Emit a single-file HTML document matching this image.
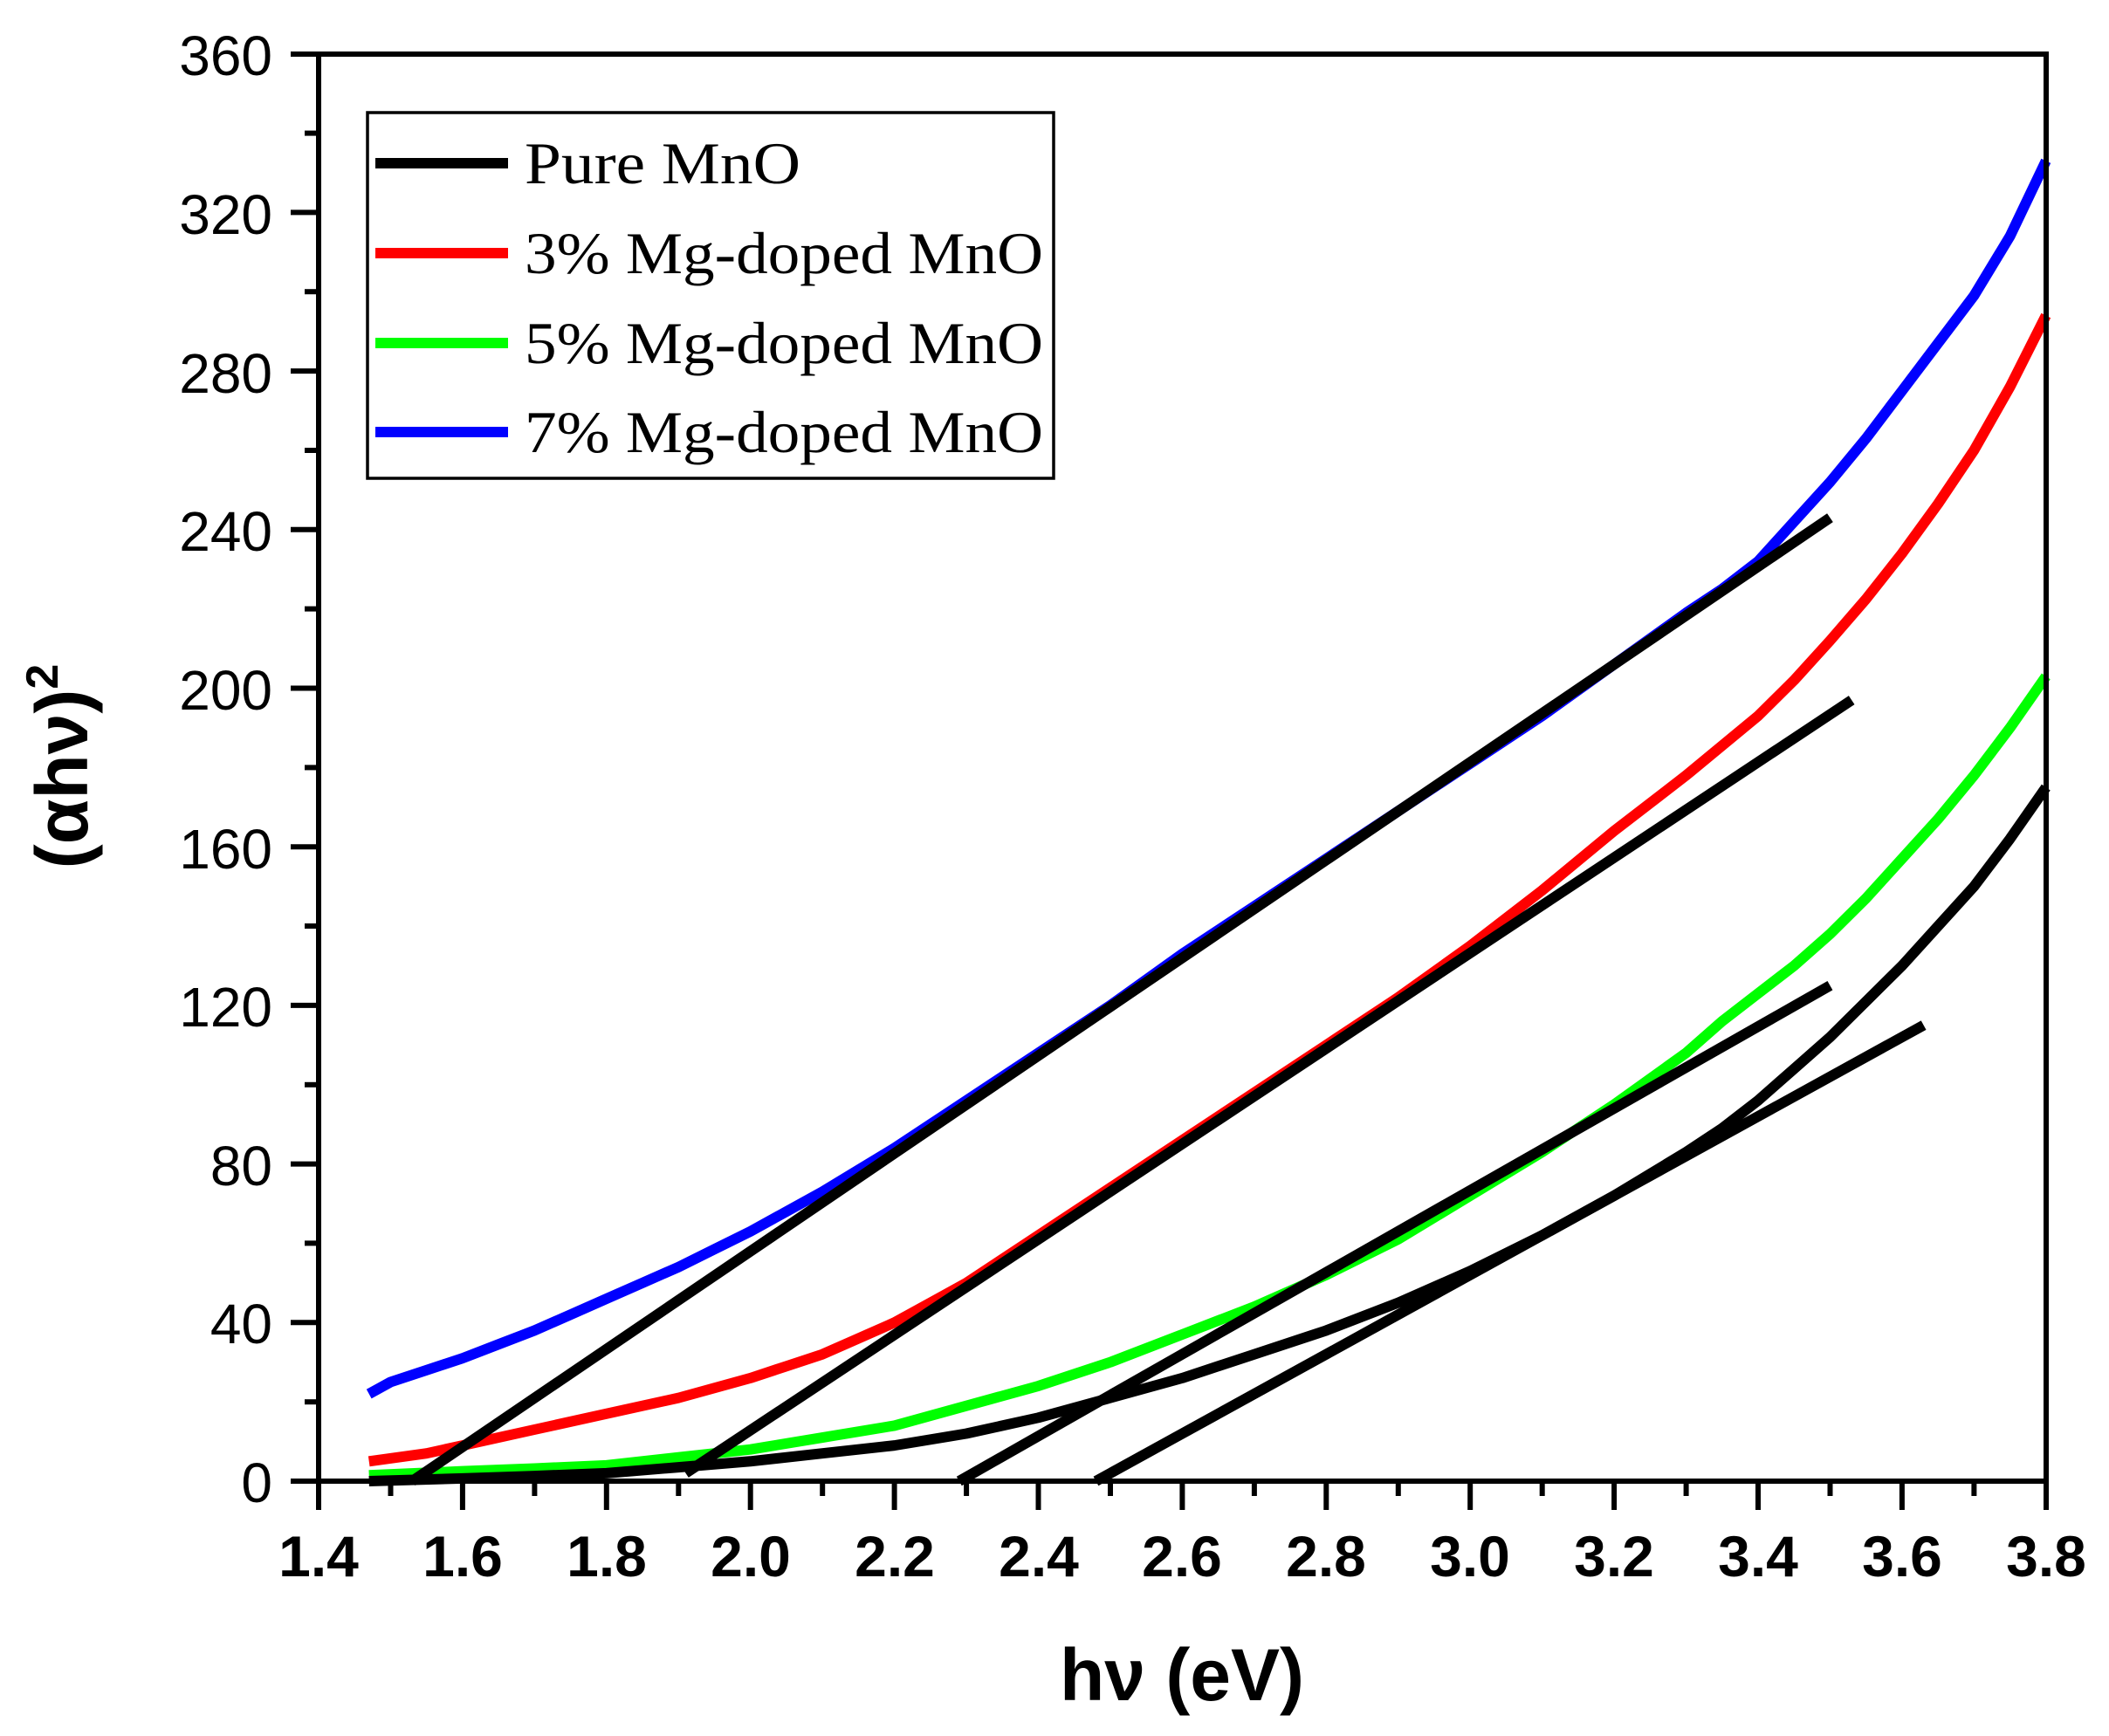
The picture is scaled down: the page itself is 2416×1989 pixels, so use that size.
<!DOCTYPE html>
<html><head><meta charset="utf-8"><style>
html,body{margin:0;padding:0;background:#fff;}
svg{display:block;}
</style></head><body>
<svg width="2416" height="1989" viewBox="0 0 2416 1989" xmlns="http://www.w3.org/2000/svg">
<rect width="2416" height="1989" fill="#fff"/>
<g transform="translate(-789.3,1697) scale(824.5,-4.5425)" fill="none" stroke-linejoin="round">
<polyline vector-effect="non-scaling-stroke" stroke="#0000ff" stroke-width="12" points="1.47,22 1.5,25 1.55,28 1.6,31 1.65,34.5 1.7,38 1.75,42 1.8,46 1.85,50 1.9,54 1.95,58.5 2.0,63 2.05,68 2.1,73 2.15,78.5 2.2,84 2.25,90 2.3,96 2.35,102 2.4,108 2.5,120 2.6,133 2.7,145 2.8,157 2.9,169 3.0,181 3.1,193 3.2,206 3.3,219 3.35,225 3.4,232 3.45,242 3.5,252 3.55,263 3.6,275 3.65,287 3.7,299 3.75,314 3.8,333"/>
<polyline vector-effect="non-scaling-stroke" stroke="#ff0000" stroke-width="12" points="1.47,5 1.55,7 1.6,9 1.7,13 1.8,17 1.9,21 1.95,23.5 2.0,26 2.05,29 2.1,32 2.15,36 2.2,40 2.25,45 2.3,50 2.35,56 2.4,62 2.5,74 2.6,86 2.7,98 2.8,110 2.9,122 3.0,135 3.1,149 3.2,164 3.3,178 3.4,193 3.45,202 3.5,212 3.55,222.5 3.6,234 3.65,246.5 3.7,260 3.75,276 3.8,294"/>
<polyline vector-effect="non-scaling-stroke" stroke="#00ff00" stroke-width="12" points="1.47,1.5 1.6,2.5 1.7,3.2 1.8,4 1.9,6 2.0,8 2.1,11 2.2,14 2.3,19 2.4,24 2.5,30 2.6,37 2.7,44 2.8,52 2.9,61 3.0,72 3.1,83 3.2,95 3.3,108 3.35,116 3.4,123 3.45,130 3.5,138 3.55,147 3.6,157 3.65,167 3.7,178 3.75,190 3.8,203"/>
<polyline vector-effect="non-scaling-stroke" stroke="#000" stroke-width="12" points="1.47,0 1.6,0.7 1.7,1.3 1.8,2 1.9,3.5 2.0,5 2.1,7 2.2,9 2.3,12 2.4,16 2.5,21 2.6,26 2.7,32 2.8,38 2.9,45 3.0,53 3.1,62 3.2,72 3.3,83 3.35,89 3.4,96 3.45,104 3.5,112 3.55,121 3.6,130 3.65,140 3.7,150 3.75,162 3.8,175"/>
<g stroke="#000" stroke-width="12">
<line vector-effect="non-scaling-stroke" x1="1.53" y1="0" x2="3.5" y2="243"/>
<line vector-effect="non-scaling-stroke" x1="1.91" y1="2" x2="3.53" y2="197"/>
<line vector-effect="non-scaling-stroke" x1="2.29" y1="0" x2="3.5" y2="125"/>
<line vector-effect="non-scaling-stroke" x1="2.48" y1="0" x2="3.63" y2="115"/>
</g>
</g>
<rect x="365" y="62" width="1979" height="1635" fill="none" stroke="#000" stroke-width="6"/>
<g stroke="#000" stroke-width="6">
<line x1="333" y1="1697" x2="365" y2="1697"/><line x1="349" y1="1606.2" x2="365" y2="1606.2"/>
<line x1="333" y1="1515.3" x2="365" y2="1515.3"/><line x1="349" y1="1424.4" x2="365" y2="1424.4"/>
<line x1="333" y1="1333.6" x2="365" y2="1333.6"/><line x1="349" y1="1242.8" x2="365" y2="1242.8"/>
<line x1="333" y1="1151.9" x2="365" y2="1151.9"/><line x1="349" y1="1061" x2="365" y2="1061"/>
<line x1="333" y1="970.2" x2="365" y2="970.2"/><line x1="349" y1="879.4" x2="365" y2="879.4"/>
<line x1="333" y1="788.5" x2="365" y2="788.5"/><line x1="349" y1="697.6" x2="365" y2="697.6"/>
<line x1="333" y1="606.8" x2="365" y2="606.8"/><line x1="349" y1="516" x2="365" y2="516"/>
<line x1="333" y1="425.1" x2="365" y2="425.1"/><line x1="349" y1="334.2" x2="365" y2="334.2"/>
<line x1="333" y1="243.4" x2="365" y2="243.4"/><line x1="349" y1="152.6" x2="365" y2="152.6"/>
<line x1="333" y1="62" x2="365" y2="62"/>
</g>
<g stroke="#000" stroke-width="6">
<line x1="365" y1="1697" x2="365" y2="1730"/><line x1="447.5" y1="1697" x2="447.5" y2="1714"/>
<line x1="529.9" y1="1697" x2="529.9" y2="1730"/><line x1="612.4" y1="1697" x2="612.4" y2="1714"/>
<line x1="694.8" y1="1697" x2="694.8" y2="1730"/><line x1="777.3" y1="1697" x2="777.3" y2="1714"/>
<line x1="859.7" y1="1697" x2="859.7" y2="1730"/><line x1="942.2" y1="1697" x2="942.2" y2="1714"/>
<line x1="1024.6" y1="1697" x2="1024.6" y2="1730"/><line x1="1107.1" y1="1697" x2="1107.1" y2="1714"/>
<line x1="1189.5" y1="1697" x2="1189.5" y2="1730"/><line x1="1272" y1="1697" x2="1272" y2="1714"/>
<line x1="1354.4" y1="1697" x2="1354.4" y2="1730"/><line x1="1436.9" y1="1697" x2="1436.9" y2="1714"/>
<line x1="1519.3" y1="1697" x2="1519.3" y2="1730"/><line x1="1601.8" y1="1697" x2="1601.8" y2="1714"/>
<line x1="1684.2" y1="1697" x2="1684.2" y2="1730"/><line x1="1766.7" y1="1697" x2="1766.7" y2="1714"/>
<line x1="1849.1" y1="1697" x2="1849.1" y2="1730"/><line x1="1931.6" y1="1697" x2="1931.6" y2="1714"/>
<line x1="2014" y1="1697" x2="2014" y2="1730"/><line x1="2096.5" y1="1697" x2="2096.5" y2="1714"/>
<line x1="2178.9" y1="1697" x2="2178.9" y2="1730"/><line x1="2261.4" y1="1697" x2="2261.4" y2="1714"/>
<line x1="2344" y1="1697" x2="2344" y2="1730"/>
</g>
<g font-family="'Liberation Sans',sans-serif" font-size="64" text-anchor="end" fill="#000">
<text x="312" y="1721">0</text><text x="312" y="1539">40</text><text x="312" y="1358">80</text>
<text x="312" y="1176">120</text><text x="312" y="995">160</text><text x="312" y="813">200</text>
<text x="312" y="631">240</text><text x="312" y="450">280</text><text x="312" y="268">320</text>
<text x="312" y="86">360</text>
</g>
<g font-family="'Liberation Sans',sans-serif" font-size="66" font-weight="bold" text-anchor="middle" fill="#000">
<text x="365" y="1806">1.4</text><text x="530" y="1806">1.6</text><text x="695" y="1806">1.8</text>
<text x="860" y="1806">2.0</text><text x="1025" y="1806">2.2</text><text x="1190" y="1806">2.4</text>
<text x="1354" y="1806">2.6</text><text x="1519" y="1806">2.8</text><text x="1684" y="1806">3.0</text>
<text x="1849" y="1806">3.2</text><text x="2014" y="1806">3.4</text><text x="2179" y="1806">3.6</text>
<text x="2344" y="1806">3.8</text>
</g>
<text x="1354" y="1948" font-family="'Liberation Sans',sans-serif" font-size="84" font-weight="bold" text-anchor="middle">hν (eV)</text>
<text transform="translate(100,878) rotate(-90)" font-family="'Liberation Sans',sans-serif" font-size="84" font-weight="bold" text-anchor="middle">(αhν)<tspan font-size="52" dy="-34">2</tspan></text>
<rect x="421" y="129" width="786" height="419" fill="#fff" stroke="#000" stroke-width="3.5"/>
<g stroke-width="12">
<line x1="430" y1="187" x2="582" y2="187" stroke="#000"/>
<line x1="430" y1="290" x2="582" y2="290" stroke="#ff0000"/>
<line x1="430" y1="393" x2="582" y2="393" stroke="#00ff00"/>
<line x1="430" y1="495" x2="582" y2="495" stroke="#0000ff"/>
</g>
<g font-family="'Liberation Serif',serif" font-size="68" fill="#000">
<text x="601" y="210" textLength="316" lengthAdjust="spacingAndGlyphs">Pure MnO</text>
<text x="601" y="313" textLength="594" lengthAdjust="spacingAndGlyphs">3% Mg-doped MnO</text>
<text x="601" y="416" textLength="594" lengthAdjust="spacingAndGlyphs">5% Mg-doped MnO</text>
<text x="601" y="518" textLength="594" lengthAdjust="spacingAndGlyphs">7% Mg-doped MnO</text>
</g>
</svg>
</body></html>
